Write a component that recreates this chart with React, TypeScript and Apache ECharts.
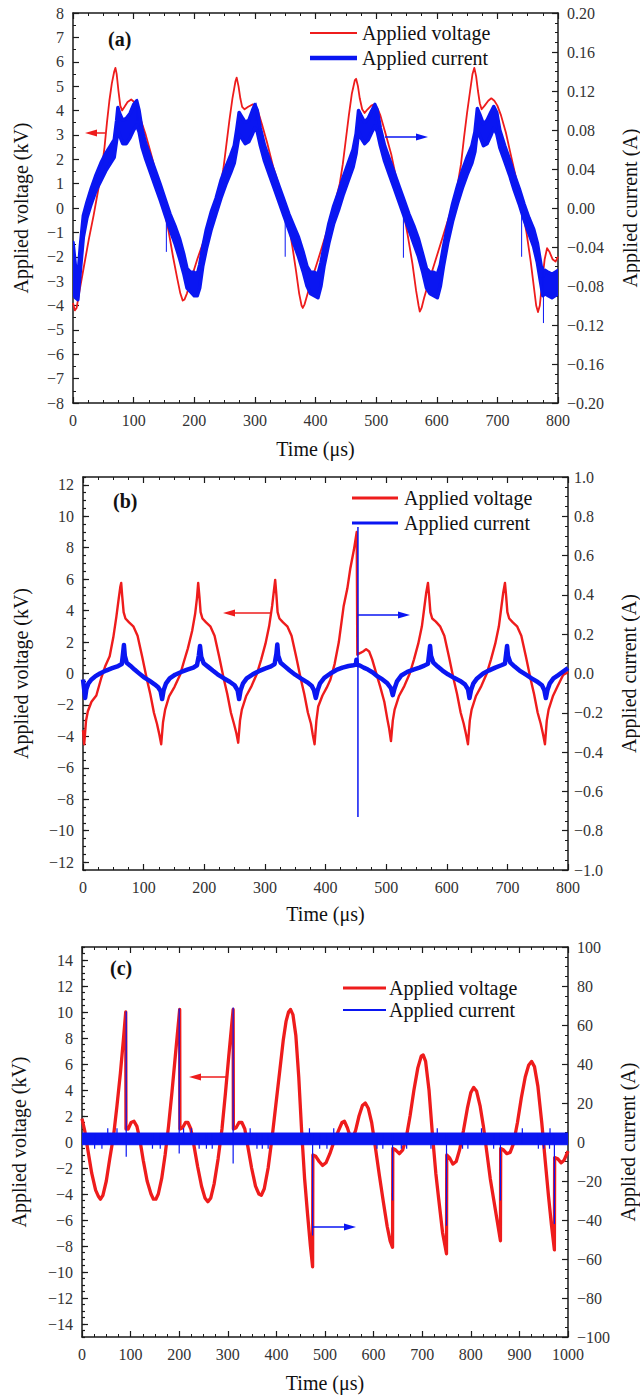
import React, { useEffect, useRef } from 'react';
import * as echarts from 'echarts';

// ---------------- Panel (a) ----------------
const aTime = [0, 3, 6, 10, 18, 26, 34, 42, 48, 52, 56, 60, 64, 68, 70, 72, 75, 78, 81, 85, 90, 96, 101, 106, 112, 120, 130, 140, 150, 158, 165, 172, 177, 181, 184, 188, 195, 205, 215, 225, 235, 243, 248, 253, 258, 263, 268, 270, 273, 276, 279, 283, 289, 296, 301, 306, 312, 320, 330, 340, 350, 356, 362, 368, 373, 377, 379, 382, 386, 393, 402, 412, 422, 432, 440, 445, 450, 455, 460, 465, 467, 470, 473, 477, 481, 486, 492, 497, 502, 507, 515, 525, 535, 544, 552, 560, 566, 570, 572, 575, 579, 586, 596, 606, 616, 626, 634, 640, 645, 650, 655, 659, 662, 665, 668, 671, 674, 679, 685, 690, 695, 700, 706, 714, 722, 731, 740, 748, 755, 760, 764, 767, 770, 774, 778, 782, 786, 791, 796, 800];
const aVoltage = [-3.9, -4.2, -4.1, -3.5, -2.4, -1.3, -0.3, 0.8, 1.7, 2.5, 3.5, 4.4, 5.1, 5.6, 5.75, 5.5, 4.8, 4.2, 4.0, 4.15, 4.35, 4.45, 4.35, 4.05, 3.6, 3.0, 2.1, 1.1, 0.0, -1.0, -2.0, -2.9, -3.5, -3.8, -3.75, -3.5, -2.9, -2.1, -1.4, -0.6, 0.1, 0.9, 1.6, 2.6, 3.6, 4.5, 5.2, 5.35, 5.0, 4.5, 4.15, 4.05, 4.15, 4.25, 4.2, 3.9, 3.4, 2.7, 1.7, 0.9, 0.1, -0.7, -1.6, -2.6, -3.5, -4.0, -4.1, -3.95, -3.6, -3.0, -2.3, -1.5, -0.7, 0.2, 1.0, 1.8, 2.8, 3.8, 4.7, 5.25, 5.3, 5.0, 4.5, 4.05, 3.9, 4.05, 4.2, 4.25, 4.1, 3.8, 3.1, 2.2, 1.0, 0.0, -1.1, -2.3, -3.4, -4.0, -4.25, -4.1, -3.7, -3.1, -2.3, -1.5, -0.7, 0.1, 0.9, 1.8, 2.9, 3.9, 4.8, 5.5, 5.75, 5.4, 4.8, 4.3, 4.05, 4.2, 4.4, 4.5, 4.4, 4.2, 3.8, 3.1, 2.2, 1.2, 0.1, -1.0, -2.2, -3.2, -4.0, -4.27, -4.0, -3.0, -2.1, -1.65, -1.8, -2.1, -2.2, -2.0];

const aCurTime = [0, 4, 8, 12, 17, 23, 30, 38, 46, 54, 62, 68, 72, 74, 77, 82, 88, 94, 100, 105, 109, 114, 120, 128, 136, 144, 152, 160, 168, 176, 183, 188, 194, 200, 205, 209, 214, 220, 228, 236, 244, 252, 260, 266, 270, 274, 278, 284, 290, 296, 300, 304, 309, 316, 324, 332, 340, 348, 356, 364, 372, 380, 386, 392, 398, 404, 409, 414, 422, 430, 438, 446, 454, 462, 467, 471, 475, 481, 487, 493, 498, 502, 507, 514, 522, 530, 538, 546, 554, 562, 570, 577, 583, 589, 595, 601, 606, 611, 618, 626, 634, 642, 650, 658, 663, 667, 671, 677, 683, 689, 694, 699, 704, 712, 720, 728, 736, 744, 752, 760, 766, 771, 775, 779, 784, 790, 795, 800];
const aCurLow = [-0.088, -0.092, -0.094, -0.065, -0.03, -0.01, 0.004, 0.018, 0.028, 0.038, 0.046, 0.052, 0.07, 0.08, 0.074, 0.066, 0.066, 0.072, 0.08, 0.085, 0.078, 0.062, 0.05, 0.036, 0.022, 0.008, -0.007, -0.022, -0.036, -0.052, -0.068, -0.082, -0.086, -0.09, -0.09, -0.082, -0.06, -0.042, -0.022, -0.006, 0.01, 0.024, 0.036, 0.046, 0.06, 0.075, 0.072, 0.066, 0.068, 0.076, 0.082, 0.078, 0.064, 0.048, 0.034, 0.02, 0.006, -0.008, -0.022, -0.036, -0.05, -0.066, -0.08, -0.088, -0.09, -0.092, -0.08, -0.06, -0.036, -0.016, -0.002, 0.014, 0.028, 0.042, 0.056, 0.078, 0.072, 0.066, 0.07, 0.078, 0.084, 0.078, 0.064, 0.048, 0.034, 0.02, 0.006, -0.008, -0.022, -0.036, -0.05, -0.066, -0.082, -0.088, -0.09, -0.092, -0.08, -0.06, -0.036, -0.014, 0.004, 0.02, 0.034, 0.046, 0.058, 0.08, 0.074, 0.064, 0.066, 0.074, 0.082, 0.076, 0.062, 0.048, 0.034, 0.018, 0.004, -0.012, -0.026, -0.04, -0.056, -0.075, -0.09, -0.088, -0.09, -0.092, -0.09, -0.088];
const aCurHigh = [-0.035, -0.06, -0.072, -0.04, -0.008, 0.006, 0.02, 0.034, 0.046, 0.056, 0.064, 0.07, 0.09, 0.103, 0.097, 0.09, 0.092, 0.097, 0.106, 0.11, 0.1, 0.08, 0.066, 0.052, 0.038, 0.024, 0.009, -0.006, -0.018, -0.032, -0.048, -0.062, -0.066, -0.066, -0.068, -0.058, -0.04, -0.022, -0.004, 0.01, 0.028, 0.042, 0.054, 0.064, 0.08, 0.098, 0.094, 0.088, 0.09, 0.1, 0.106, 0.1, 0.082, 0.064, 0.05, 0.036, 0.022, 0.008, -0.006, -0.018, -0.03, -0.046, -0.06, -0.066, -0.066, -0.068, -0.056, -0.04, -0.016, 0.002, 0.016, 0.032, 0.046, 0.06, 0.076, 0.1, 0.095, 0.088, 0.092, 0.1, 0.106, 0.1, 0.082, 0.064, 0.05, 0.036, 0.022, 0.008, -0.006, -0.018, -0.032, -0.048, -0.062, -0.066, -0.066, -0.068, -0.058, -0.04, -0.018, 0.004, 0.022, 0.038, 0.052, 0.064, 0.078, 0.102, 0.096, 0.086, 0.09, 0.098, 0.104, 0.098, 0.08, 0.064, 0.05, 0.034, 0.02, 0.004, -0.01, -0.022, -0.036, -0.055, -0.07, -0.064, -0.066, -0.068, -0.066, -0.064];

const aSpikeTime = [106, 154, 302, 350, 498, 545, 740, 776];
const aSpikeLow = [0.09, -0.045, 0.09, -0.05, 0.09, -0.051, -0.05, -0.118];
const aSpikeHigh = [0.112, -0.005, 0.108, -0.002, 0.108, -0.002, -0.005, -0.06];

// ---------------- Panel (b) ----------------
const bTime = [0, 2, 5, 8, 14, 22, 30, 37, 44, 50, 55, 59, 61.5, 63, 64.5, 67, 70, 76, 83, 90, 98, 105, 111, 117, 122, 126, 129, 132, 135.5, 142, 151, 160, 166, 173, 180, 185, 188, 190, 192, 194, 197, 203, 210, 217, 225, 232, 238, 244, 249, 253, 256, 259, 262, 269, 278, 287, 294, 301, 307, 312, 315, 317, 319, 321, 324, 330, 337, 344, 352, 359, 365, 371, 376, 379, 382, 385, 388, 395, 402, 408, 415, 422, 430, 436, 441, 447, 451.5, 452.5, 457, 462, 467, 472, 477, 483, 490, 497, 502, 505, 508, 511, 514, 521, 530, 539, 546, 553, 559, 563, 566, 569, 571, 573, 576, 582, 589, 596, 604, 611, 617, 623, 628, 632, 635, 638, 641, 648, 657, 666, 673, 680, 686, 690, 693, 696, 698, 700, 703, 709, 716, 723, 731, 738, 744, 750, 755, 759, 762, 765, 768, 775, 783, 792, 800];
const bVoltage = [-3.6, -4.5, -3.0, -2.4, -1.8, -1.4, -0.3, 0.5, 1.1, 2.3, 3.6, 4.8, 5.5, 5.76, 5.0, 3.9, 3.5, 3.25, 3.0, 2.4, 1.0, -0.3, -1.3, -2.5, -3.2, -3.9, -4.5, -3.1, -2.3, -1.45, -0.85, -0.1, 0.7, 1.6, 2.7, 3.8, 4.8, 5.76, 4.9, 3.9, 3.5, 3.25, 3.0, 2.4, 1.0, -0.3, -1.3, -2.5, -3.2, -3.8, -4.4, -3.0, -2.3, -1.45, -0.8, 0.0, 0.9, 1.9, 3.0, 4.3, 5.3, 5.95, 5.0, 3.9, 3.5, 3.25, 3.0, 2.4, 1.0, -0.3, -1.3, -2.5, -3.2, -3.9, -4.5, -3.0, -2.1, -1.4, -0.9, -0.4, 0.6, 2.0, 4.3, 5.4, 6.7, 7.9, 9.0, 1.2, 1.3, 1.4, 1.55, 1.4, 0.9, 0.1, -0.8, -1.8, -2.9, -3.5, -4.3, -3.0, -2.3, -1.45, -0.8, 0.0, 0.9, 1.9, 3.0, 4.2, 5.1, 5.76, 4.9, 3.9, 3.5, 3.3, 3.0, 2.4, 1.0, -0.3, -1.3, -2.5, -3.2, -3.9, -4.5, -3.0, -2.3, -1.45, -0.8, 0.0, 0.9, 1.9, 3.0, 4.2, 5.1, 5.76, 4.9, 3.9, 3.5, 3.25, 3.0, 2.4, 1.0, -0.3, -1.3, -2.5, -3.2, -3.9, -4.5, -3.0, -2.3, -1.45, -0.8, -0.1, 0.1];

const bCurTime = [0, 1.5, 3.5, 5.5, 9, 14, 20, 28, 38, 48, 58, 64, 66, 67.5, 69, 72, 78, 85, 92, 100, 110, 118, 124, 128, 130.5, 133, 137, 143, 152, 162, 172, 182, 188, 191, 193, 195, 199, 206, 214, 222, 232, 242, 250, 255, 257.5, 260, 264, 270, 280, 290, 300, 310, 316, 319, 320.5, 322, 326, 333, 341, 350, 360, 370, 377, 381, 384, 387, 391, 398, 408, 418, 428, 438, 446, 450, 451, 452, 457, 463, 470, 478, 486, 494, 502, 508, 511, 514, 518, 525, 535, 545, 555, 563, 569, 571, 572.5, 574, 578, 585, 593, 602, 612, 622, 630, 635, 637.5, 640, 644, 650, 660, 670, 680, 690, 696, 698, 699.5, 701, 705, 712, 720, 730, 740, 750, 757, 761, 763.5, 766, 770, 776, 784, 792, 800];
const bCurrent = [-0.03, -0.07, -0.125, -0.08, -0.05, -0.03, -0.015, 0.0, 0.015, 0.027, 0.038, 0.048, 0.1, 0.145, 0.09, 0.055, 0.04, 0.02, 0.002, -0.018, -0.038, -0.055, -0.07, -0.09, -0.13, -0.085, -0.05, -0.025, -0.006, 0.008, 0.02, 0.03, 0.042, 0.09, 0.14, 0.085, 0.052, 0.035, 0.015, -0.004, -0.024, -0.042, -0.06, -0.085, -0.13, -0.085, -0.05, -0.025, -0.004, 0.012, 0.025, 0.036, 0.048, 0.1, 0.148, 0.09, 0.055, 0.036, 0.015, -0.006, -0.026, -0.045, -0.062, -0.085, -0.125, -0.085, -0.05, -0.022, 0.0, 0.018, 0.03, 0.038, 0.042, 0.045, 0.07, 0.045, 0.04, 0.03, 0.02, 0.005, -0.015, -0.03, -0.05, -0.075, -0.11, -0.075, -0.04, -0.01, 0.008, 0.02, 0.03, 0.04, 0.05, 0.1, 0.14, 0.09, 0.055, 0.035, 0.015, -0.004, -0.022, -0.038, -0.055, -0.08, -0.125, -0.085, -0.05, -0.025, 0.0, 0.016, 0.03, 0.042, 0.05, 0.1, 0.14, 0.09, 0.055, 0.035, 0.015, -0.005, -0.025, -0.043, -0.06, -0.085, -0.125, -0.085, -0.05, -0.025, -0.008, 0.01, 0.028];

const bSpikeTime = [453.5];
const bSpikeLow = [-0.73];
const bSpikeHigh = [0.745];

// ---------------- Panel (c) ----------------
const cTime = [0, 6, 12, 20, 28, 34, 38, 43, 50, 57, 65, 72, 79, 85, 90, 90.5, 95, 101, 107, 113, 119, 126, 134, 142, 147, 152, 157, 164, 171, 178, 185, 192, 197, 201, 201.5, 207, 213, 218, 224, 230, 238, 246, 253, 259, 265, 272, 280, 288, 295, 302, 307, 311, 311.5, 317, 323, 329, 335, 341, 349, 357, 364, 369, 375, 383, 391, 399, 407, 414, 420, 425, 429, 434, 440, 446, 452, 458, 464, 470, 474.5, 475, 481, 488, 495, 502, 510, 519, 528, 535, 540, 546, 552, 557, 563, 570, 577, 583, 589, 596, 604, 612, 620, 628, 634, 639, 639.5, 645, 653, 660, 667, 675, 683, 691, 698, 702, 707, 714, 721, 728, 734, 742, 750, 750.5, 756, 763, 770, 777, 785, 793, 800, 806, 812, 819, 826, 833, 840, 847, 854, 861, 861.5, 867, 874, 881, 888, 896, 904, 912, 919, 925, 931, 938, 946, 953, 960, 966, 972, 972.5, 979, 986, 992, 1000];
const cVoltage = [1.8, 0.8, -0.6, -2.4, -3.7, -4.2, -4.4, -4.1, -3.0, -1.3, 0.5, 2.8, 5.3, 7.8, 10.0, 1.0, 1.0, 1.5, 1.6, 1.2, 0.2, -1.4, -3.0, -4.0, -4.4, -4.4, -4.0, -2.8, -1.0, 1.2, 3.8, 6.6, 8.6, 10.2, 1.0, 1.1, 1.5, 1.5, 1.0, -0.2, -1.9, -3.4, -4.3, -4.6, -4.3, -3.2, -1.3, 1.0, 3.7, 6.6, 8.6, 10.2, 1.0, 1.1, 1.5, 1.5, 1.0, -0.3, -2.0, -3.4, -4.0, -4.1, -3.6, -2.0, 0.3, 2.9, 5.5, 7.8, 9.3, 10.0, 10.2, 9.8, 8.2, 5.0, 0.8, -2.8, -5.5, -8.0, -9.6, -1.0, -1.1, -1.5, -1.8, -1.6, -0.9, 0.1, 0.9, 1.5, 1.6, 1.1, 0.4, 0.3, 0.9, 2.0, 2.8, 3.0, 2.6, 1.5, -0.5, -2.6, -4.6, -6.5, -7.6, -8.1, -0.5, -0.6, -0.9, -0.6, 0.3, 2.0, 4.0, 5.7, 6.6, 6.7, 6.2, 4.0, 0.6, -2.4, -4.4, -7.0, -8.6, -1.0, -1.2, -1.7, -1.5, -0.6, 0.9, 2.6, 3.8, 4.2, 3.9, 2.8, 1.2, -0.8, -2.8, -4.4, -6.0, -7.6, -0.5, -0.6, -0.9, -0.8, -0.1, 1.5, 3.4, 5.0, 5.9, 6.2, 5.8, 4.3, 1.5, -1.4, -4.2, -6.4, -8.3, -1.2, -1.3, -1.6, -1.4, -0.7];

const cCurBandTime = [0, 1000];
const cCurBandLow = [-1.4, -1.4];
const cCurBandHigh = [4.6, 4.6];

const cSpikeTime = [26, 41, 53, 72, 91, 145, 161, 200, 209, 225, 241, 256, 268, 311, 346, 360, 371, 383, 468, 474.5, 489, 504, 518, 607, 619, 639, 657, 668, 718, 731, 750, 783, 794, 822, 847, 861, 906, 939, 950, 962, 963, 972];
const cSpikeLow = [-3.5, -3.5, -1, -1, -7.6, -3.5, -3.5, -5.9, -1, -1, -3.5, -3.5, -3.5, -11, -1, -3.5, -3.5, -3.5, -1, -48, -3.5, -3.5, -1, -3.5, -3.5, -30, -3.5, -3.5, -3.5, -1, -43, -3.5, -3.5, -1, -3.5, -30, -1, -3.5, -3.5, -3.5, -1, -42];
const cSpikeHigh = [4.6, 4.6, 7, 7, 67, 4.6, 4.6, 68.5, 7, 7, 4.6, 4.6, 4.6, 69, 7, 4.6, 4.6, 4.6, 7, 4.6, 4.6, 4.6, 7, 4.6, 4.6, 4.6, 4.6, 4.6, 4.6, 7, 4.6, 4.6, 4.6, 7, 4.6, 4.6, 7, 4.6, 4.6, 4.6, 7, 4.6];

// tick labels
const bLeftTicks = [-12, -10, -8, -6, -4, -2, 0, 2, 4, 6, 8, 10, 12];
const cLeftTicks = [-14, -12, -10, -8, -6, -4, -2, 0, 2, 4, 6, 8, 10, 12, 14];

const LEGEND_LABELS = ['Applied voltage', 'Applied current'];
const X_NAME = 'Time (μs)';
const Y_LEFT_NAME = 'Applied voltage (kV)';
const Y_RIGHT_NAME = 'Applied current (A)';

// ---------------- styling ----------------
const FONT = '"Liberation Serif", "Times New Roman", serif';
const RED = '#ee1c1c';
const BLUE = '#0a16f2';
const AX = '#1a1a1a';
const LBL = '#333333';

const fmt = (d: number) => (v: number) => {
  const r = Number(Number(v).toFixed(d));
  if (Math.abs(r) < 1e-9) return (0).toFixed(d);
  return (r < 0 ? '\u2212' : '') + Math.abs(r).toFixed(d);
};

const zip = (t: number[], v: number[]) => t.map((x, i) => [x, v[i]]);
const spikes = (t: number[], lo: number[], hi: number[]) => {
  const out: any[] = [];
  t.forEach((x, i) => {
    out.push([x, lo[i]], [x, hi[i]], [x, '-']);
  });
  return out;
};

function xAxis(gridIndex: number, max: number, top: boolean, nameGap: number) {
  return {
    type: 'value', gridIndex, position: top ? 'top' : 'bottom', min: 0, max, interval: 100,
    axisLine: { show: true, onZero: false, lineStyle: { color: AX, width: 1.5 } },
    axisTick: { show: true, inside: true, length: 6, lineStyle: { color: AX, width: 1.2 } },
    minorTick: { show: true, splitNumber: 4, length: 3, lineStyle: { color: AX, width: 1 } },
    splitLine: { show: false }, minorSplitLine: { show: false },
    axisLabel: { show: !top, margin: 9, fontFamily: FONT, fontSize: 16, color: LBL, showMinLabel: true, showMaxLabel: true, formatter: (v: number) => String(v) },
    name: top ? '' : X_NAME, nameLocation: 'middle', nameGap, nameMoveOverlap: false,
    nameTextStyle: { fontFamily: FONT, fontSize: 20, color: '#111' },
  };
}

function yAxis(o: any) {
  const base: any = {
    type: 'value', gridIndex: o.grid, position: o.pos, min: o.min, max: o.max,
    axisLine: { show: o.line !== false, onZero: false, lineStyle: { color: AX, width: 1.5 } },
    axisTick: { show: true, inside: true, length: o.tickLen ?? 6, lineStyle: { color: AX, width: 1.2 } },
    minorTick: { show: !!o.minor, splitNumber: o.minor || 2, length: 3, lineStyle: { color: AX, width: 1 } },
    splitLine: { show: false }, minorSplitLine: { show: false },
    axisLabel: { show: o.labels !== false, margin: o.margin ?? 9, fontFamily: FONT, fontSize: 16, color: LBL, showMinLabel: true, showMaxLabel: true, formatter: fmt(o.dec ?? 0) },
    name: o.name || '', nameLocation: 'middle', nameRotate: 90, nameGap: o.nameGap ?? 40, nameMoveOverlap: false,
    nameTextStyle: { fontFamily: FONT, fontSize: 20, color: '#111' },
  };
  if (o.interval !== undefined) base.interval = o.interval;
  if (o.custom) {
    base.axisLabel.customValues = o.custom;
    base.axisTick.customValues = o.custom;
  }
  return base;
}

function bandSeries(xi: number, yi: number, T: number[], LO: number[], HI: number[], color: string, edge: number) {
  return {
    type: 'custom', xAxisIndex: xi, yAxisIndex: yi, silent: true, clip: true, z: 3,
    data: T.map((t, i) => [t, LO[i], HI[i]]),
    encode: { x: 0, y: [1, 2] },
    renderItem: (params: any, api: any) => {
      if (params.dataIndex !== 0) return null;
      const pts: number[][] = [];
      for (let i = 0; i < T.length; i++) pts.push(api.coord([T[i], HI[i]]));
      for (let i = T.length - 1; i >= 0; i--) pts.push(api.coord([T[i], LO[i]]));
      return { type: 'polygon', shape: { points: pts }, style: { fill: color, stroke: color, lineWidth: edge, lineJoin: 'round' } };
    },
  };
}

function lineSeries(xi: number, yi: number, data: any[], color: string, width: number, z = 2) {
  return {
    type: 'line', xAxisIndex: xi, yAxisIndex: yi, data, showSymbol: false, symbol: 'none',
    silent: true, connectNulls: false, z, lineStyle: { color, width, join: 'round' }, itemStyle: { color },
  };
}

function arrow(x1: number, x2: number, y: number, color: string) {
  // x1 = tail, x2 = tip
  const dir = x2 > x1 ? 1 : -1;
  return [
    { type: 'line', z: 100, shape: { x1, y1: y, x2: x2 - dir * 6, y2: y }, style: { stroke: color, lineWidth: 1.5 } },
    { type: 'polygon', z: 100, shape: { points: [[x2, y], [x2 - dir * 12, y - 3.5], [x2 - dir * 12, y + 3.5]] }, style: { fill: color } },
  ];
}

function legend(x1: number, x2: number, tx: number, y1: number, y2: number, wRed: number, wBlue: number) {
  return [
    { type: 'line', z: 100, shape: { x1, y1, x2, y2: y1 }, style: { stroke: RED, lineWidth: wRed } },
    { type: 'line', z: 100, shape: { x1, y1: y2, x2, y2 }, style: { stroke: BLUE, lineWidth: wBlue } },
    { type: 'text', z: 100, x: tx, y: y1, style: { text: LEGEND_LABELS[0], fontFamily: FONT, fontSize: 20, fill: '#111', align: 'left', verticalAlign: 'middle' } },
    { type: 'text', z: 100, x: tx, y: y2, style: { text: LEGEND_LABELS[1], fontFamily: FONT, fontSize: 20, fill: '#111', align: 'left', verticalAlign: 'middle' } },
  ];
}

function panelLabel(text: string, x: number, y: number) {
  return { type: 'text', z: 100, x, y, style: { text, fontFamily: FONT, fontSize: 20, fontWeight: 'bold', fill: '#111', align: 'left', verticalAlign: 'middle' } };
}

export default function App() {
  const ref = useRef<HTMLDivElement>(null);
  useEffect(() => {
    if (!ref.current) return;
    const chart = echarts.init(ref.current, null, { renderer: 'svg' });
    const option: any = {
      animation: false,
      backgroundColor: '#ffffff',
      grid: [
        { left: 73, top: 13, width: 485, height: 390, containLabel: false, outerBoundsMode: 'none' },
        { left: 83, top: 477, width: 485, height: 393, containLabel: false, outerBoundsMode: 'none' },
        { left: 82, top: 947, width: 486, height: 390, containLabel: false, outerBoundsMode: 'none' },
      ],
      xAxis: [
        xAxis(0, 800, false, 36), xAxis(0, 800, true, 0),
        xAxis(1, 800, false, 34), xAxis(1, 800, true, 0),
        xAxis(2, 1000, false, 36), xAxis(2, 1000, true, 0),
      ],
      yAxis: [
        yAxis({ grid: 0, pos: 'left', min: -8, max: 8, interval: 1, minor: 2, dec: 0, name: Y_LEFT_NAME, nameGap: 42, margin: 9 }),
        yAxis({ grid: 0, pos: 'right', min: -0.2, max: 0.2, interval: 0.04, minor: 4, dec: 2, name: Y_RIGHT_NAME, nameGap: 62, margin: 9 }),
        yAxis({ grid: 1, pos: 'left', min: -12.5, max: 12.5, custom: bLeftTicks, dec: 0, name: Y_LEFT_NAME, nameGap: 52, margin: 9 }),
        yAxis({ grid: 1, pos: 'right', min: -1, max: 1, interval: 0.2, minor: 4, dec: 1, name: Y_RIGHT_NAME, nameGap: 51, margin: 6 }),
        yAxis({ grid: 1, pos: 'left', min: -12.5, max: 12.5, interval: 0.5, line: false, labels: false, tickLen: 3 }),
        yAxis({ grid: 2, pos: 'left', min: -15, max: 15, custom: cLeftTicks, dec: 0, name: Y_LEFT_NAME, nameGap: 53, margin: 9 }),
        yAxis({ grid: 2, pos: 'right', min: -100, max: 100, interval: 20, minor: 4, dec: 0, name: Y_RIGHT_NAME, nameGap: 50, margin: 9 }),
        yAxis({ grid: 2, pos: 'left', min: -15, max: 15, interval: 0.5, line: false, labels: false, tickLen: 3 }),
      ],
      series: [
        lineSeries(0, 0, zip(aTime, aVoltage), RED, 1.8),
        bandSeries(0, 1, aCurTime, aCurLow, aCurHigh, BLUE, 3.5),
        lineSeries(0, 1, spikes(aSpikeTime, aSpikeLow, aSpikeHigh), BLUE, 1, 4),
        lineSeries(2, 2, zip(bTime, bVoltage), RED, 2.4),
        lineSeries(2, 3, zip(bCurTime, bCurrent), BLUE, 4.5, 3),
        lineSeries(2, 3, spikes(bSpikeTime, bSpikeLow, bSpikeHigh), BLUE, 1.5, 4),
        lineSeries(4, 5, zip(cTime, cVoltage), RED, 3.3),
        bandSeries(4, 6, cCurBandTime, cCurBandLow, cCurBandHigh, BLUE, 1),
        lineSeries(4, 6, spikes(cSpikeTime, cSpikeLow, cSpikeHigh), BLUE, 1.2, 4),
      ],
      graphic: [
        panelLabel('(a)', 108, 39),
        panelLabel('(b)', 113, 501),
        panelLabel('(c)', 110, 968),
        ...legend(310, 357, 362, 33, 58, 2, 4.5),
        ...legend(352, 398, 404, 498, 523, 3, 3),
        ...legend(343, 386, 389, 988, 1010, 3, 2),
        ...arrow(105, 85, 133, RED),
        ...arrow(385, 428, 137, BLUE),
        ...arrow(270, 223, 613, RED),
        ...arrow(358, 410, 615, BLUE),
        ...arrow(227, 189, 1077, RED),
        ...arrow(312, 356, 1227, BLUE),
      ],
    };
    chart.setOption(option);
    return () => chart.dispose();
  }, []);
  return <div ref={ref} style={{ position: 'absolute', left: 0, top: 0, width: 640, height: 1396, background: '#fff' }} />;
}
